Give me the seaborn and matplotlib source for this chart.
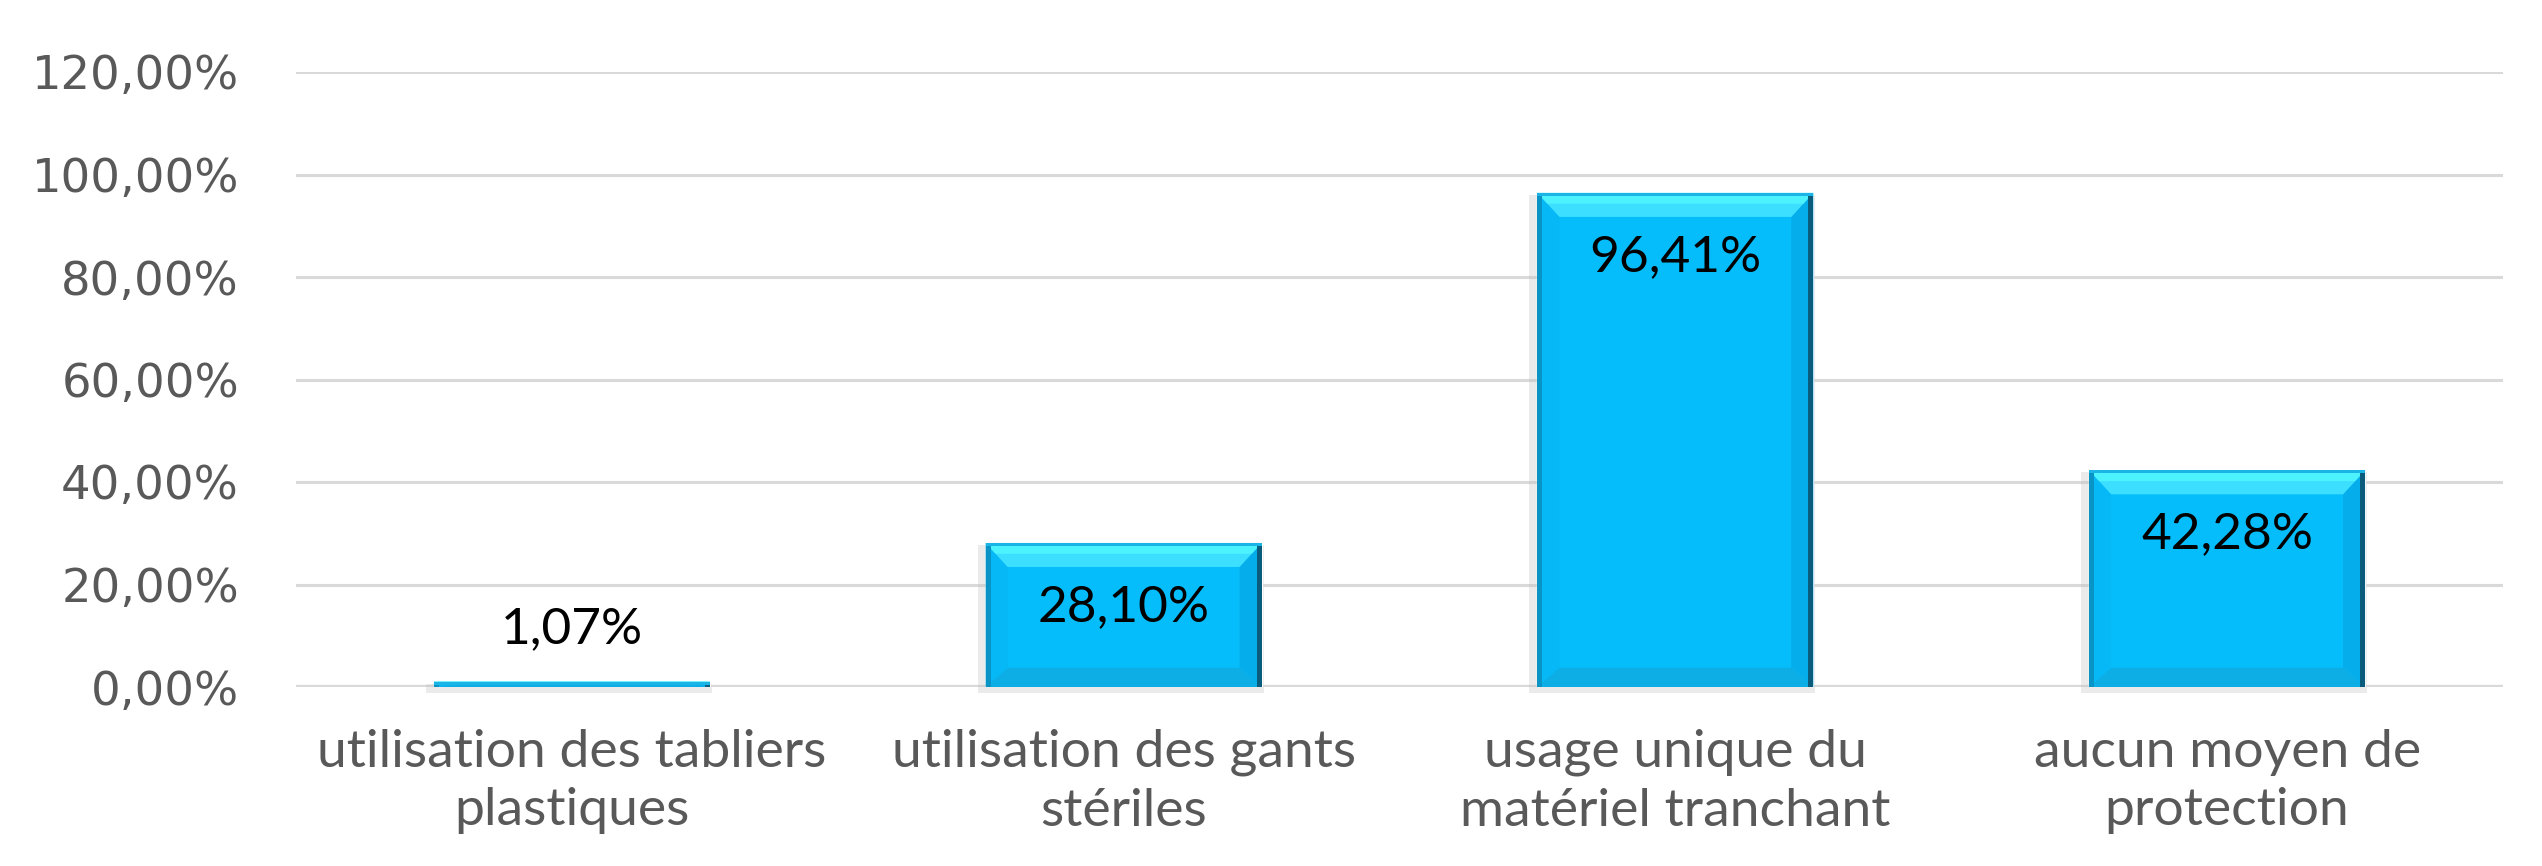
import matplotlib
matplotlib.use("Agg")
import matplotlib.pyplot as plt
import matplotlib.patches as mpatches
import seaborn as sns
import pandas as pd

# data
categories = ["utilisation des tabliers\nplastiques",
              "utilisation des gants\nstériles",
              "usage unique du\nmatériel tranchant",
              "aucun moyen de\nprotection"]
values = [1.07, 28.10, 96.41, 42.28]
yticks = [0, 20, 40, 60, 80, 100, 120]

df = pd.DataFrame({"cat": categories, "val": values})

sns.set_theme(style="white")
plt.rcParams["font.family"] = ["Lato", "DejaVu Sans"]

fig = plt.figure(figsize=(25.42, 8.66), dpi=100)
ax = fig.add_axes([296 / 2542, 179 / 866, 2207 / 2542, 615 / 866])

sns.barplot(data=df, x="cat", y="val", color="#06BDFB", width=0.5,
            saturation=1, ax=ax, zorder=3)

ax.set_ylim(0, 120)
ax.set_xlim(-0.5, 3.5)
ax.set_yticks(yticks)
ax.set_yticklabels([f"{t},00%" for t in yticks])
ax.tick_params(axis="y", length=0, pad=41, labelsize=33.5, labelcolor="#595959")
ax.tick_params(axis="x", length=0, pad=30, labelsize=38.5, labelcolor="#595959")
for lab in ax.get_yticklabels():
    lab.set_fontfamily("DejaVu Sans")
for lab in ax.get_xticklabels():
    lab.set_linespacing(1.3)
ax.set_xlabel("")
ax.set_ylabel("")
for s in ax.spines.values():
    s.set_visible(False)
ax.grid(axis="y", color="#D9D9D9", linewidth=2.2, zorder=0)
ax.axhline(0, color="#D9D9D9", linewidth=3.8, zorder=2)

# bevel look of the bars, sized in pixels
bb = ax.get_window_extent()
px_x = bb.width / 4.0
px_y = bb.height / 120.0


def quad(pts, color, z, alpha=1.0):
    ax.add_patch(mpatches.Polygon(pts, closed=True, facecolor=color,
                                  edgecolor="none", zorder=z, alpha=alpha))


for p in list(ax.patches):
    x0, w, h = p.get_x(), p.get_width(), p.get_height()
    x1 = x0 + w
    bx = 22 / px_x
    by = min(24 / px_y, h / 2)
    # soft shadow
    ax.add_patch(mpatches.Rectangle((x0 - 8 / px_x, -6 / px_y), w + 10 / px_x,
                                    h + 4 / px_y, facecolor="#BFBFBF",
                                    alpha=0.3, edgecolor="none", zorder=2.5,
                                    clip_on=False))
    # top band: bright cyan fading into the face
    quad([(x0, h), (x1, h), (x1 - bx, h - by), (x0 + bx, h - by)], "#3CDFFF", 3.2)
    quad([(x0, h), (x1, h), (x1 - bx * 0.45, h - by * 0.45),
          (x0 + bx * 0.45, h - by * 0.45)], "#4DF2FF", 3.25)
    quad([(x0, 0), (x1, 0), (x1 - bx, by * 0.8), (x0 + bx, by * 0.8)], "#0DAEE6", 3.2)
    quad([(x0, 0), (x0, h), (x0 + bx, h - by), (x0 + bx, by * 0.8)], "#06B8F5", 3.1)
    quad([(x1, 0), (x1, h), (x1 - bx, h - by), (x1 - bx, by * 0.8)], "#05AEEB", 3.1)
    ax.add_patch(mpatches.Rectangle((x0, 0), 5 / px_x, h, facecolor="#0A94C6",
                                    edgecolor="none", zorder=3.3))
    ax.add_patch(mpatches.Rectangle((x1 - 5 / px_x, 0), 5 / px_x, h,
                                    facecolor="#0B5C7C", edgecolor="none",
                                    zorder=3.3))
    ax.add_patch(mpatches.Rectangle((x0, h - 3 / px_y), w, 3 / px_y,
                                    facecolor="#1AB4E6", edgecolor="none",
                                    zorder=3.3))

# data labels
for p, v in zip(ax.patches[:len(values)], values):
    txt = f"{v:.2f}".replace(".", ",") + "%"
    cx = p.get_x() + p.get_width() / 2
    if v > 10:
        off = -64
    else:
        off = 52
    ax.annotate(txt, (cx, v), xytext=(0, off), textcoords="offset pixels",
                ha="center", va="center", fontsize=37, color="black", zorder=5)

fig.savefig("out.png", dpi=100, facecolor="white")
